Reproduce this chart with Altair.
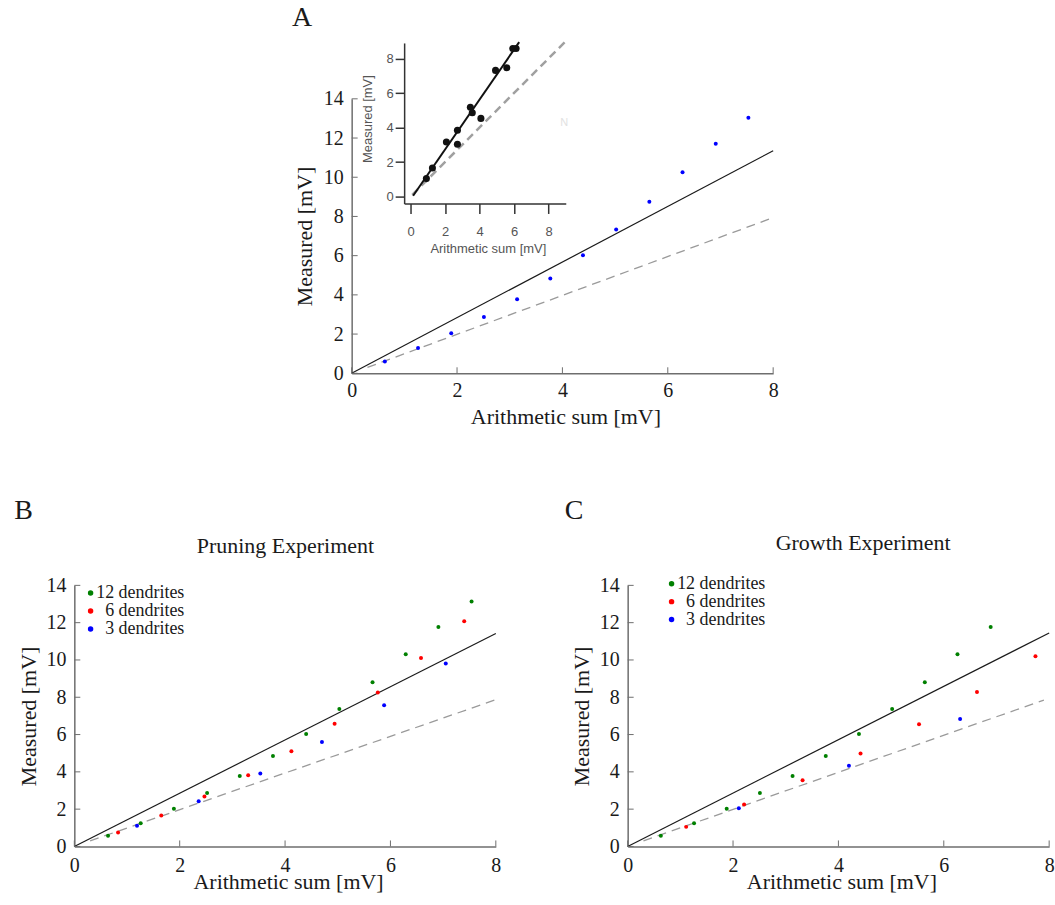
import altair as alt
import pandas as pd

SERIF = "Liberation Serif"
SANS = "Liberation Sans"
INK = "#1a1a1a"
AXIS_GRAY = "#6e6e6e"

# ---------------- data ----------------
x_ticks = [0, 2, 4, 6, 8]
y_ticks = [0, 2, 4, 6, 8, 10, 12, 14]
inset_ticks = [0, 2, 4, 6, 8]

panel_letters = ["A", "B", "C"]
panel_titles = ["Pruning Experiment", "Growth Experiment"]
axis_titles = ["Arithmetic sum [mV]", "Measured [mV]"]
series_names = ["12 dendrites", "6 dendrites", "3 dendrites"]
series_colors = ["#008000", "#ff0000", "#0000ff"]

# panel A (main)
a_x = [0.63, 1.26, 1.89, 2.51, 3.14, 3.77, 4.39, 5.02, 5.65, 6.28, 6.91, 7.53]
a_y = [0.60, 1.29, 2.04, 2.87, 3.78, 4.84, 6.02, 7.33, 8.75, 10.25, 11.71, 13.03]
a_fit_x = [0, 8]
a_fit_y = [0, 11.35]
a_unity_x = [0.3, 8]
a_unity_y = [0.3, 7.94]

# panel A (inset)
inset_x = [0.92, 1.27, 2.08, 2.72, 2.72, 3.47, 3.58, 4.08, 4.93, 5.58, 5.93, 6.12]
inset_y = [1.04, 1.66, 3.16, 3.84, 3.03, 5.18, 4.86, 4.53, 7.31, 7.46, 8.58, 8.58]
inset_fit_x = [0.15, 6.3]
inset_fit_y = [0.05, 8.95]
inset_unity_x = [0.1, 9.0]
inset_unity_y = [0.1, 9.0]

# panel B
b_green_x = [0.64, 1.26, 1.89, 2.52, 3.14, 3.77, 4.40, 5.03, 5.66, 6.29, 6.91, 7.54]
b_green_y = [0.57, 1.25, 2.02, 2.86, 3.78, 4.85, 6.03, 7.37, 8.81, 10.31, 11.77, 13.13]
b_red_x = [0.83, 1.65, 2.47, 3.30, 4.12, 4.94, 5.76, 6.58, 7.40]
b_red_y = [0.75, 1.66, 2.68, 3.82, 5.10, 6.58, 8.26, 10.11, 12.08]
b_blue_x = [1.19, 2.36, 3.53, 4.70, 5.88, 7.05]
b_blue_y = [1.11, 2.43, 3.91, 5.60, 7.57, 9.81]
b_fit_x = [0, 8]
b_fit_y = [0, 11.42]
b_unity_x = [0.3, 8]
b_unity_y = [0.3, 7.87]

# panel C
c_green_x = [0.63, 1.26, 1.88, 2.51, 3.13, 3.76, 4.39, 5.02, 5.64, 6.26, 6.89]
c_green_y = [0.57, 1.25, 2.02, 2.86, 3.78, 4.85, 6.03, 7.37, 8.81, 10.31, 11.77]
c_red_x = [1.11, 2.21, 3.32, 4.42, 5.53, 6.63, 7.74]
c_red_y = [1.05, 2.25, 3.55, 4.98, 6.55, 8.28, 10.20]
c_blue_x = [2.11, 4.20, 6.31]
c_blue_y = [2.05, 4.33, 6.83]
c_fit_x = [0, 8]
c_fit_y = [0, 11.45]
c_unity_x = [0.3, 7.9]
c_unity_y = [0.3, 7.85]

# ---------------- layout constants ----------------
W = 422.5
HA = 275.1
HB = 261.7


def frame(xs, ys, series=None):
    d = pd.DataFrame({"x": xs, "y": ys})
    if series is not None:
        d["series"] = series
    return d


def main_encodings(H, x_label_pad, x_title_y, y_title_x):
    xe = alt.X(
        "x:Q",
        scale=alt.Scale(domain=[0, 8], nice=False, zero=False),
        axis=alt.Axis(
            values=x_ticks, format="d", ticks=False, tickSize=0, grid=False,
            domainColor=AXIS_GRAY, domainWidth=1.5,
            labelFont=SERIF, labelFontSize=20, labelColor=INK,
            labelPadding=x_label_pad, labelFlush=False, labelOverlap=False,
            title=axis_titles[0], titleFont=SERIF, titleFontSize=22,
            titleFontWeight="normal", titleColor=INK,
            titleBaseline="alphabetic", titleX=W / 2 + 3, titleY=x_title_y,
        ),
    )
    ye = alt.Y(
        "y:Q",
        scale=alt.Scale(domain=[0, 14], nice=False, zero=False),
        axis=alt.Axis(
            values=y_ticks, format="d", ticks=False, tickSize=0, grid=False,
            domainColor=AXIS_GRAY, domainWidth=1.5,
            labelFont=SERIF, labelFontSize=20, labelColor=INK,
            labelPadding=8.4, labelFlush=False, labelOverlap=False,
            title=axis_titles[1], titleFont=SERIF, titleFontSize=22,
            titleFontWeight="normal", titleColor=INK, titleAngle=-90,
            titleBaseline="alphabetic", titleX=y_title_x, titleY=H / 2,
        ),
    )
    return xe, ye


def base_layers(H, xe, ye, fit, unity, letter, lx, ly):
    dashed = alt.Chart(frame(*unity)).mark_line(
        color="#9a9a9a", strokeWidth=1.3, strokeDash=[9, 6]
    ).encode(x=xe, y=ye)
    solid = alt.Chart(frame(*fit)).mark_line(color=INK, strokeWidth=1.2).encode(x=xe, y=ye)
    xt = alt.Chart(pd.DataFrame({"x": x_ticks})).mark_rule(
        color=AXIS_GRAY, strokeWidth=1
    ).encode(x=xe, y=alt.value(H), y2=alt.value(H - 6))
    yt = alt.Chart(pd.DataFrame({"y": y_ticks})).mark_rule(
        color=AXIS_GRAY, strokeWidth=1
    ).encode(y=ye, x=alt.value(0), x2=alt.value(6))
    lt = alt.Chart(pd.DataFrame({"t": [letter]})).mark_text(
        font=SERIF, fontSize=28, align="center", baseline="alphabetic", color=INK
    ).encode(text="t:N", x=alt.value(lx), y=alt.value(ly))
    return [dashed, solid, xt, yt, lt]


def subtitle(text, x, y):
    return alt.Chart(pd.DataFrame({"t": [text]})).mark_text(
        font=SERIF, fontSize=22, align="left", baseline="alphabetic", color=INK
    ).encode(text="t:N", x=alt.value(x), y=alt.value(y))


def legend_color(lx, ly):
    return alt.Color(
        "series:N",
        sort=series_names,
        scale=alt.Scale(domain=series_names, range=series_colors),
        legend=alt.Legend(
            orient="none", legendX=lx, legendY=ly, title=None,
            symbolType="circle", symbolSize=30, symbolStrokeWidth=0, symbolOpacity=1,
            labelFont=SERIF, labelFontSize=18, labelColor=INK,
            labelAlign="right", labelOffset=85,
            labelLimit=300, rowPadding=0, padding=0,
        ),
    )


# ---------------- panel A ----------------
xeA, yeA = main_encodings(HA, 7.3, 50.6, -40)
a_points = alt.Chart(frame(a_x, a_y)).mark_circle(size=16, opacity=1, color="#0000ff").encode(x=xeA, y=yeA)
artifact = alt.Chart(pd.DataFrame({"t": ["N"]})).mark_text(
    font=SANS, fontSize=11, color="#e2e2e2", align="center", baseline="middle"
).encode(text="t:N", x=alt.value(213), y=alt.value(24))
mainA = alt.layer(*base_layers(HA, xeA, yeA, (a_fit_x, a_fit_y), (a_unity_x, a_unity_y),
                               panel_letters[0], -49.7, -72.7), a_points, artifact)

ixe = alt.X(
    "x:Q",
    scale=alt.Scale(domain=[-0.37, 9.0], range=[52.6, 214.6], nice=False, zero=False),
    axis=alt.Axis(
        orient="bottom", offset=-170.2, values=inset_ticks, format="d", grid=False,
        domainColor="#333333", domainWidth=1.5, tickColor="#333333", tickWidth=1.5, tickSize=10,
        labelFont=SANS, labelFontSize=13, labelColor="#555555", labelPadding=12,
        labelFlush=False, labelOverlap=False,
        title=axis_titles[0], titleFont=SANS, titleFontSize=13, titleFontWeight="normal",
        titleColor="#555555", titleBaseline="alphabetic", titleX=136.5, titleY=49.3,
    ),
)
iye = alt.Y(
    "y:Q",
    scale=alt.Scale(domain=[-0.4, 8.9], range=[104.9, -56.0], nice=False, zero=False),
    axis=alt.Axis(
        orient="left", offset=-52.6, values=inset_ticks, format="d", grid=False,
        domainColor="#333333", domainWidth=1.5, tickColor="#333333", tickWidth=1.5, tickSize=9,
        labelFont=SANS, labelFontSize=13, labelColor="#555555", labelPadding=2,
        labelFlush=False, labelOverlap=False,
        title=axis_titles[1], titleFont=SANS, titleFontSize=13, titleFontWeight="normal",
        titleColor="#555555", titleAngle=-90, titleBaseline="alphabetic",
        titleX=-32.5, titleY=19.8,
    ),
)
in_unity = alt.Chart(frame(inset_unity_x, inset_unity_y)).mark_line(
    color="#a0a0a0", strokeWidth=2.5, strokeDash=[8, 5]
).encode(x=ixe, y=iye)
in_fit = alt.Chart(frame(inset_fit_x, inset_fit_y)).mark_line(color="#111111", strokeWidth=2).encode(x=ixe, y=iye)
in_pts = alt.Chart(frame(inset_x, inset_y)).mark_circle(size=50, opacity=1, color="#111111").encode(x=ixe, y=iye)
insetA = alt.layer(in_unity, in_fit, in_pts)

chartA = alt.layer(mainA, insetA).resolve_scale(x="independent", y="independent").properties(width=W, height=HA)

# ---------------- panel B ----------------
xeB, yeB = main_encodings(HB, 9, 42.5, -39)
b_df = pd.concat([
    frame(b_green_x, b_green_y, series_names[0]),
    frame(b_red_x, b_red_y, series_names[1]),
    frame(b_blue_x, b_blue_y, series_names[2]),
])
b_points = alt.Chart(b_df).mark_circle(size=16, opacity=1).encode(x=xeB, y=yeB, color=legend_color(7.3, -1.3))
chartB = alt.layer(
    *base_layers(HB, xeB, yeB, (b_fit_x, b_fit_y), (b_unity_x, b_unity_y), panel_letters[1], -51, -67),
    b_points,
    subtitle(panel_titles[0], W / 2 - 88.5, -32),
).properties(width=W, height=HB)

# ---------------- panel C ----------------
xeC, yeC = main_encodings(HB, 9, 42.5, -39)
c_df = pd.concat([
    frame(c_green_x, c_green_y, series_names[0]),
    frame(c_red_x, c_red_y, series_names[1]),
    frame(c_blue_x, c_blue_y, series_names[2]),
])
c_points = alt.Chart(c_df).mark_circle(size=16, opacity=1).encode(x=xeC, y=yeC, color=legend_color(35, -10.7))
chartC = alt.layer(
    *base_layers(HB, xeC, yeC, (c_fit_x, c_fit_y), (c_unity_x, c_unity_y), panel_letters[2], -53.8, -67),
    c_points,
    subtitle(panel_titles[1], 148.4, -35),
).properties(width=W, height=HB)

# ---------------- assemble ----------------
spacer = alt.Chart(pd.DataFrame({"x": [0]})).mark_point(opacity=0).encode(
    x=alt.value(0), y=alt.value(0)
).properties(width=217.25, height=10)

rowA = alt.hconcat(spacer, chartA, spacing=0)
rowBC = alt.hconcat(chartB, chartC, spacing=62.65).resolve_legend(color="independent")

chart = alt.vconcat(rowA, rowBC, spacing=68.7).properties(
    padding={"left": 13.5, "top": 3, "right": 0, "bottom": 0},
    background="white",
).configure_view(strokeWidth=0)

chart.save("out.html", embed_options={"renderer": "svg", "actions": False})
